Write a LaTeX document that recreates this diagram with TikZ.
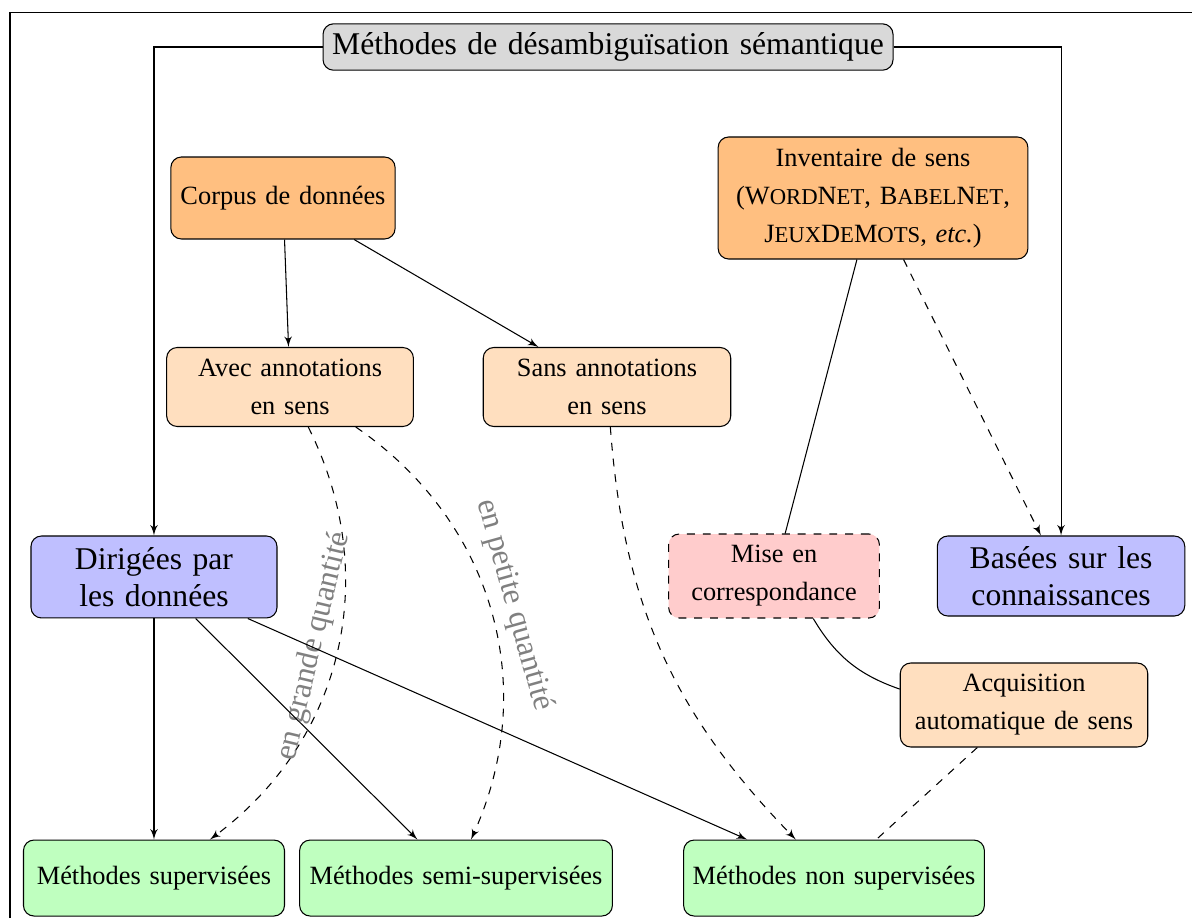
\documentclass[tikz,border=0pt]{standalone}
\usepackage{fontspec}
\setmainfont{Liberation Serif}
\usepackage{tikz}
\usetikzlibrary{shapes.geometric, arrows}
\newcommand{\petitcap}[1]{{\fontsize{8.6}{8.6}\selectfont #1}}
\tikzstyle{boite} = [rectangle, draw, rounded corners, align=center,
    inner xsep=0.1cm, font=\fontsize{10}{14.4}\selectfont]
\tikzstyle{titre} = [boite, fill=gray!30, font=\large, minimum height=0.6cm]
\tikzstyle{ressource} = [boite, fill=orange!50]
\tikzstyle{corpus} = [boite, fill=orange!25]
\tikzstyle{famille} = [boite, fill=blue!25, font=\large]
\tikzstyle{methode} = [boite, fill=green!25]
\tikzstyle{line} = [draw, -latex']
\tikzstyle{tirets} = [draw, dashed, -latex']
\tikzstyle{etiquette} = [sloped, above, text=gray, font=\large]

\begin{document}
\begin{tikzpicture}
                \useasboundingbox (0,0) rectangle (15.893,12.24);
                \draw (0.133,0) |- (15.893,12.067);
                \node [titre, text width=7.4cm] at (8.107,11.613) (titre) {Méthodes de désambiguïsation sémantique};
                \node [ressource, text width=2.79cm, minimum height=1.093cm] at (3.773,9.6) (corpus) {Corpus de données};
                \node [ressource, text width=3.93cm, minimum height=1.627cm] at (11.64,9.6) (inventaire) {Inventaire de sens\\(W\petitcap{ORD}N\petitcap{ET}, B\petitcap{ABEL}N\petitcap{ET},\\J\petitcap{EUX}D\petitcap{E}M\petitcap{OTS}, \textit{etc.})};
                \node [corpus, text width=3.09cm, minimum height=1.053cm] at (3.867,7.08) (avec) {Avec annotations\\en sens};
                \node [corpus, text width=3.1cm, minimum height=1.053cm] at (8.093,7.08) (sans) {Sans annotations\\en sens};
                \node [famille, text width=3.08cm, minimum height=1.093cm] at (2.053,4.547) (dirigees) {Dirigées par\\les données};
                \node [boite, dashed, fill=red!20, text width=2.61cm, minimum height=1.12cm] at (10.32,4.56) (mise) {Mise en\\correspondance};
                \node [famille, text width=3.1cm, minimum height=1.067cm] at (14.147,4.56) (basees) {Basées sur les\\connaissances};
                \node [corpus, text width=3.1cm, minimum height=1.12cm] at (13.653,2.84) (acquisition) {Acquisition\\automatique de sens};
                \node [methode, text width=3.28cm, minimum height=1.013cm] at (2.053,0.533) (sup) {Méthodes supervisées};
                \node [methode, text width=3.97cm, minimum height=1.013cm] at (6.08,0.533) (semi) {Méthodes semi-supervisées};
                \node [methode, text width=3.81cm, minimum height=1.013cm] at (11.12,0.533) (nonsup) {Méthodes non supervisées};
                % familles
                \path [line] (titre.west) -| (dirigees.north);
                \path [line] (titre.east) -| (basees.north);
                % corpus
                \path [line] (corpus) -- (avec);
                \path [line] (corpus) -- (sans);
                \path [tirets] (avec) to [bend left=40] node [etiquette] {en grande quantité} (sup);
                \path [tirets] (avec) to [bend left=40] node [etiquette] {en petite quantité} (semi);
                \path [tirets] (sans) to [bend right=20] (nonsup);
                % connaissances
                \draw (inventaire) -- (mise);
                \path [tirets] (inventaire) -- (basees);
                \draw (mise) to [bend right=20] (acquisition);
                \draw [dashed] (acquisition) -- (nonsup);
                % methodes
                \path [line] (dirigees) -- (sup);
                \path [line] (dirigees) -- (semi);
                \path [line] (dirigees) -- (nonsup);
            \end{tikzpicture}
\end{document}
